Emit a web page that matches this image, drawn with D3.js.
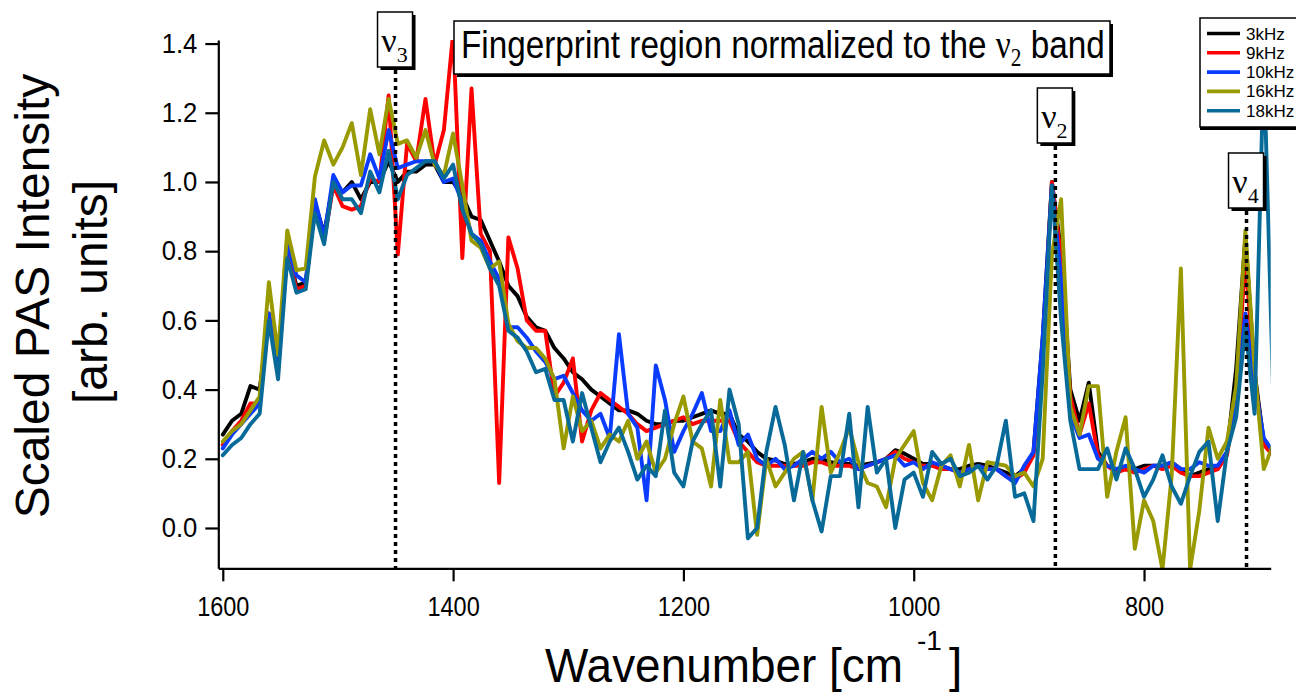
<!DOCTYPE html>
<html><head><meta charset="utf-8">
<script src="https://cdn.jsdelivr.net/npm/d3@7"></script>
<style>body{margin:0;background:#fff}svg{display:block}</style>
</head><body>
<svg id="c" width="1296" height="696"></svg>
<script>
const wavenumbers = [
1600,1592,1584,1576,1568,1560,1552,1544,1536,1528,
1520,1512,1504,1496,1488,1480,1472,1464,1456,1448,
1440,1432,1424,1416,1408,1400,1392,1384,1376,1368,
1360,1352,1344,1336,1328,1320,1312,1304,1296,1288,
1280,1272,1264,1256,1248,1240,1232,1224,1216,1208,
1200,1192,1184,1176,1168,1160,1152,1144,1136,1128,
1120,1112,1104,1096,1088,1080,1072,1064,1056,1048,
1040,1032,1024,1016,1008,1000,992,984,976,968,
960,952,944,936,928,920,912,904,896,888,
880,872,864,856,848,840,832,824,816,808,
800,792,784,776,768,760,752,744,736,728,
720,712,704,696,688];
const k3 = [
0.27,0.31,0.33,0.41,0.40,0.60,0.47,0.80,0.70,0.71,
0.94,0.85,1.00,0.97,1.00,0.95,1.00,1.00,1.06,1.00,
1.03,1.03,1.05,1.05,1.00,1.00,0.96,0.90,0.89,0.83,
0.77,0.70,0.67,0.61,0.58,0.57,0.52,0.49,0.45,0.43,
0.40,0.38,0.36,0.34,0.34,0.33,0.31,0.30,0.30,0.31,
0.31,0.32,0.33,0.34,0.33,0.33,0.27,0.25,0.22,0.20,
0.195,0.185,0.185,0.19,0.20,0.20,0.19,0.185,0.185,0.18,
0.185,0.19,0.20,0.225,0.215,0.20,0.185,0.185,0.18,0.17,
0.17,0.18,0.185,0.18,0.17,0.16,0.15,0.17,0.22,0.55,
1.00,0.80,0.40,0.31,0.42,0.22,0.18,0.17,0.17,0.17,
0.18,0.18,0.18,0.19,0.17,0.15,0.16,0.17,0.17,0.22,
0.46,0.84,0.45,0.25,0.21];
const k9 = [
0.24,0.28,0.31,0.36,0.36,0.62,0.46,0.80,0.69,0.70,
0.93,0.83,0.99,0.93,0.92,0.93,1.01,1.00,1.25,0.79,
1.11,1.06,1.24,1.05,1.15,1.43,0.78,1.27,0.85,0.80,
0.13,0.84,0.75,0.60,0.57,0.57,0.38,0.42,0.49,0.25,
0.34,0.39,0.37,0.35,0.33,0.30,0.28,0.29,0.30,0.31,
0.32,0.30,0.31,0.31,0.31,0.31,0.25,0.22,0.19,0.18,
0.18,0.18,0.18,0.18,0.19,0.19,0.18,0.18,0.18,0.17,
0.18,0.19,0.20,0.22,0.20,0.19,0.18,0.18,0.17,0.17,
0.16,0.17,0.18,0.17,0.17,0.15,0.14,0.16,0.21,0.50,
1.00,0.78,0.38,0.27,0.36,0.21,0.18,0.16,0.17,0.16,
0.17,0.18,0.17,0.18,0.16,0.15,0.15,0.16,0.17,0.21,
0.38,0.78,0.43,0.24,0.21];
const k10 = [
0.23,0.27,0.30,0.33,0.36,0.62,0.47,0.82,0.73,0.71,
0.95,0.84,1.02,0.97,0.99,0.99,1.08,1.01,1.15,1.04,
1.05,1.06,1.06,1.06,1.00,1.01,0.94,0.85,0.83,0.77,
0.72,0.58,0.58,0.55,0.51,0.48,0.43,0.44,0.39,0.34,
0.31,0.33,0.26,0.56,0.33,0.29,0.08,0.47,0.37,0.22,
0.28,0.33,0.39,0.28,0.28,0.34,0.24,0.27,0.20,0.18,
0.20,0.17,0.18,0.20,0.22,0.20,0.22,0.19,0.20,0.17,
0.18,0.19,0.20,0.21,0.18,0.19,0.17,0.19,0.18,0.17,
0.16,0.17,0.18,0.17,0.17,0.15,0.13,0.18,0.22,0.55,
0.99,0.72,0.33,0.26,0.27,0.20,0.18,0.17,0.18,0.17,
0.16,0.18,0.18,0.19,0.17,0.17,0.19,0.18,0.18,0.22,
0.35,0.62,0.42,0.26,0.22];
const k16 = [
0.25,0.28,0.30,0.34,0.38,0.71,0.50,0.86,0.745,0.75,
1.015,1.12,1.05,1.10,1.17,1.02,1.21,1.08,1.24,1.11,
1.12,1.07,1.15,1.05,1.02,1.14,0.99,0.83,0.81,0.75,
0.77,0.59,0.54,0.52,0.52,0.49,0.43,0.23,0.38,0.28,
0.31,0.23,0.27,0.25,0.31,0.20,0.25,0.16,0.20,0.30,
0.38,0.25,0.23,0.12,0.37,0.19,0.19,0.22,-0.02,0.20,
0.12,0.16,0.20,0.22,0.08,0.35,0.16,0.22,0.29,0.19,
0.13,0.12,0.06,0.20,0.24,0.28,0.13,0.08,0.18,0.21,
0.12,0.24,0.08,0.19,0.185,0.18,0.15,0.16,0.12,0.20,
0.79,0.95,0.35,0.27,0.41,0.41,0.09,0.22,0.32,-0.06,
0.08,0.02,-0.12,0.15,0.75,-0.12,0.05,0.29,0.20,0.25,
0.41,0.86,0.46,0.17,0.24];
const k18 = [
0.21,0.24,0.26,0.30,0.33,0.60,0.43,0.78,0.68,0.69,
0.91,0.82,1.00,0.95,0.95,0.91,1.03,0.97,1.09,0.95,
1.02,1.04,1.06,1.06,1.01,1.05,0.92,0.85,0.82,0.75,
0.70,0.57,0.55,0.51,0.45,0.46,0.37,0.37,0.25,0.39,
0.29,0.19,0.25,0.29,0.22,0.14,0.18,0.15,0.34,0.16,
0.12,0.25,0.30,0.34,0.12,0.40,0.30,-0.03,0.00,0.22,
0.35,0.24,0.08,0.22,0.08,-0.01,0.15,0.15,0.33,0.06,
0.35,0.16,0.20,0.00,0.14,0.16,0.09,0.22,0.185,0.20,
0.15,0.16,0.18,0.14,0.18,0.31,0.09,0.10,0.02,0.45,
0.99,0.60,0.31,0.17,0.17,0.17,0.23,0.14,0.23,0.17,
0.09,0.14,0.21,0.12,0.07,0.15,0.22,0.25,0.02,0.22,
0.32,0.58,0.33,1.35,0.40];

const seriesNames = ["3kHz","9kHz","10kHz","16kHz","18kHz"];
const seriesValues = [k3,k9,k10,k16,k18];
const seriesColors = ["#000000","#ff0000","#0a3cff","#999900","#076a99"];
const xTicks = [1600,1400,1200,1000,800];
const yTicks = [0,0.2,0.4,0.6,0.8,1.0,1.2,1.4];
const bandWavenumbers = [1450,877,711];
const bandSubscripts = ["3","2","4"];

const svg = d3.select("#c");
const L = 218.3, R = 1270.7, T = 40.1, B = 568.3;
const x = d3.scaleLinear().domain([1603.9, 690]).range([L, R]);
const y = d3.scaleLinear().domain([-0.1165, 1.41]).range([B, T]);
const SANS = "'Liberation Sans', Arial, sans-serif";
const SERIF = "'Liberation Serif', 'Times New Roman', serif";

function condense(sel, f){
  sel.each(function(){ const w=this.getComputedTextLength(); this.setAttribute("textLength", w*f); this.setAttribute("lengthAdjust","spacingAndGlyphs"); });
}

svg.append("defs").append("clipPath").attr("id","pc").append("rect")
  .attr("x",L).attr("y",T).attr("width",R-L).attr("height",B-T);

// data lines
const line = d3.line().x((d,i)=>x(wavenumbers[i])).y(d=>y(d));
const g = svg.append("g").attr("clip-path","url(#pc)");
seriesValues.forEach((vals,k)=>{
  g.append("path").datum(vals).attr("d",line).attr("fill","none")
   .attr("stroke",seriesColors[k]).attr("stroke-width",3.9)
   .attr("stroke-linejoin","round").attr("stroke-linecap","round");
});

// axes
const yAxis = svg.append("g").attr("transform",`translate(${L},0)`)
  .call(d3.axisLeft(y).tickValues(yTicks).tickSize(13).tickSizeOuter(0).tickPadding(8).tickFormat(d3.format(".1f")));
const xAxis = svg.append("g").attr("transform",`translate(0,${B})`)
  .call(d3.axisBottom(x).tickValues(xTicks).tickSize(13).tickSizeOuter(0).tickPadding(16).tickFormat(d3.format("d")));
[yAxis,xAxis].forEach(a=>{
  a.select(".domain").attr("stroke","#000").attr("stroke-width",2.2);
  a.selectAll(".tick line").attr("stroke","#000").attr("stroke-width",2.2);
  a.selectAll("text").attr("fill","#000").style("font-family",SANS).style("font-size","27px");
});
condense(yAxis.selectAll("text"),0.95);
condense(xAxis.selectAll("text"),0.87);

// axis titles
const yt = svg.append("g").style("font-family",SANS).style("font-size","48px");
yt.append("text").attr("transform","translate(49,296) rotate(-90)").attr("text-anchor","middle").text("Scaled PAS Intensity");
yt.append("text").attr("transform","translate(107,292) rotate(-90)").attr("text-anchor","middle").text("[arb. units]");

const xt = svg.append("g").style("font-family",SANS);
xt.append("text").attr("x",545).attr("y",682).style("font-size","48px").attr("textLength",358).attr("lengthAdjust","spacingAndGlyphs").text("Wavenumber [cm");
xt.append("text").attr("x",917).attr("y",650).style("font-size","28px").text("-1");
xt.append("text").attr("x",949).attr("y",682).style("font-size","48px").text("]");

// dotted band lines and boxes
const boxTops = [12, 88, 153];
function shadowBox(x0,y0,w,h){
  svg.append("rect").attr("x",x0+3).attr("y",y0+3).attr("width",w).attr("height",h).attr("fill","#000");
  svg.append("rect").attr("x",x0).attr("y",y0).attr("width",w).attr("height",h).attr("fill","#fff").attr("stroke","#000").attr("stroke-width",1.5);
}
bandWavenumbers.forEach((wn,i)=>{
  const cx = x(wn);
  svg.append("line").attr("x1",cx).attr("x2",cx).attr("y1",boxTops[i]+58).attr("y2",B)
    .attr("stroke","#000").attr("stroke-width",3.5).attr("stroke-dasharray","4,4");
  shadowBox(cx-18, boxTops[i], 35, 55);
  const t = svg.append("text").attr("x",cx-1).attr("y",boxTops[i]+40).attr("text-anchor","middle")
    .style("font-family",SERIF).style("font-size","34px");
  t.append("tspan").text("ν");
  t.append("tspan").attr("dy",10).style("font-size","22px").text(bandSubscripts[i]);
});

// title box
shadowBox(454, 21, 656, 53);
const tg = svg.append("g");
const tt = tg.append("text").attr("x",0).attr("y",0).style("font-family",SANS).style("font-size","39px");
tt.append("tspan").text("Fingerprint region normalized to the ");
tt.append("tspan").style("font-family",SERIF).text("ν");
tt.append("tspan").attr("dy",8).style("font-family",SERIF).style("font-size","25px").text("2");
tt.append("tspan").attr("dy",-8).text(" band");
const tw = tt.node().getComputedTextLength();
tg.attr("transform",`translate(461,58) scale(${644/tw},1)`);

// legend
svg.append("rect").attr("x",1200).attr("y",21).attr("width",110).attr("height",109).attr("fill","#000");
svg.append("rect").attr("x",1200).attr("y",18).attr("width",110).attr("height",109).attr("fill","#fff").attr("stroke","#000").attr("stroke-width",1.5);
seriesNames.forEach((n,k)=>{
  const ly = 33.5 + k*19.3;
  svg.append("line").attr("x1",1207).attr("x2",1240).attr("y1",ly).attr("y2",ly).attr("stroke",seriesColors[k]).attr("stroke-width",3.6);
  svg.append("text").attr("x",1246).attr("y",ly+6).style("font-family",SANS).style("font-size","17px").text(n);
});
</script>
</body></html>
